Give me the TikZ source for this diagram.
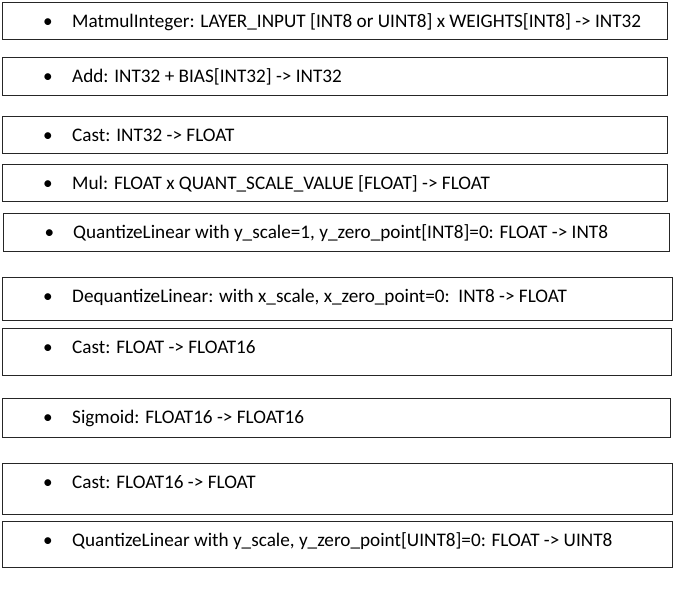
\documentclass[tikz,border=0pt]{standalone}
\usepackage{fontspec}
\setmainfont{Carlito}
\begin{document}
\begin{tikzpicture}[x=1pt,y=-1pt,
  box/.style={draw=black!85, line width=1pt, anchor=north west, inner sep=0pt, fill=white},
  txt/.style={anchor=base west, inner sep=0pt, font=\fontsize{19.2}{22}\selectfont},
  bul/.style={anchor=base, inner sep=0pt, font=\fontsize{19.2}{22}\selectfont}]
\useasboundingbox[fill=white] (0,0) rectangle (677,612);
% boxes
\node[box, minimum width=665.5pt, minimum height=37pt] (b1) at (1.5,2) {};
\node[box, minimum width=665.5pt, minimum height=38pt] (b2) at (1.5,57) {};
\node[box, minimum width=665.5pt, minimum height=37pt] (b3) at (1.5,116) {};
\node[box, minimum width=665.5pt, minimum height=37pt] (b4) at (1.5,164) {};
\node[box, minimum width=666pt, minimum height=38pt] (b5) at (3,213) {};
\node[box, minimum width=670.5pt, minimum height=43pt] (b6) at (1.5,277) {};
\node[box, minimum width=669.5pt, minimum height=47pt] (b7) at (1.5,328) {};
\node[box, minimum width=668.5pt, minimum height=39pt] (b8) at (1.5,398) {};
\node[box, minimum width=670.5pt, minimum height=51pt] (b9) at (1.5,463) {};
\node[box, minimum width=670.5pt, minimum height=46pt] (b10) at (1.5,521) {};
% bullets
\foreach \b in {b1,b2,b3,b4,b5,b6,b7,b8,b9,b10}{
  \node[bul] (\b-bul) at ([xshift=46.5pt,yshift=-25.5pt]\b.north west) {\textbullet};
}
% texts
\node[txt] (t1) at ([xshift=70.5pt,yshift=-25.5pt]b1.north west) {MatmulInteger: LAYER\_INPUT [INT8 or UINT8] x WEIGHTS[INT8] -> INT32};
\node[txt] (t2) at ([xshift=70.5pt,yshift=-25.5pt]b2.north west) {Add: INT32 + BIAS[INT32] -> INT32};
\node[txt] (t3) at ([xshift=70.5pt,yshift=-25.5pt]b3.north west) {Cast: INT32 -> FLOAT};
\node[txt] (t4) at ([xshift=70.5pt,yshift=-25.5pt]b4.north west) {Mul: FLOAT x QUANT\_SCALE\_VALUE [FLOAT] -> FLOAT};
\node[txt] (t5) at ([xshift=70pt,yshift=-25.5pt]b5.north west) {QuantizeLinear with y\_scale=1, y\_zero\_point[INT8]=0: FLOAT -> INT8};
\node[txt] (t6) at ([xshift=70.5pt,yshift=-25.5pt]b6.north west) {DequantizeLinear: with x\_scale, x\_zero\_point=0:\ \ INT8 -> FLOAT};
\node[txt] (t7) at ([xshift=70.5pt,yshift=-25.5pt]b7.north west) {Cast: FLOAT -> FLOAT16};
\node[txt] (t8) at ([xshift=70.5pt,yshift=-25.5pt]b8.north west) {Sigmoid: FLOAT16 -> FLOAT16};
\node[txt] (t9) at ([xshift=70.5pt,yshift=-25.5pt]b9.north west) {Cast: FLOAT16 -> FLOAT};
\node[txt] (t10) at ([xshift=70.5pt,yshift=-25.5pt]b10.north west) {QuantizeLinear with y\_scale, y\_zero\_point[UINT8]=0: FLOAT -> UINT8};
\end{tikzpicture}
\end{document}
